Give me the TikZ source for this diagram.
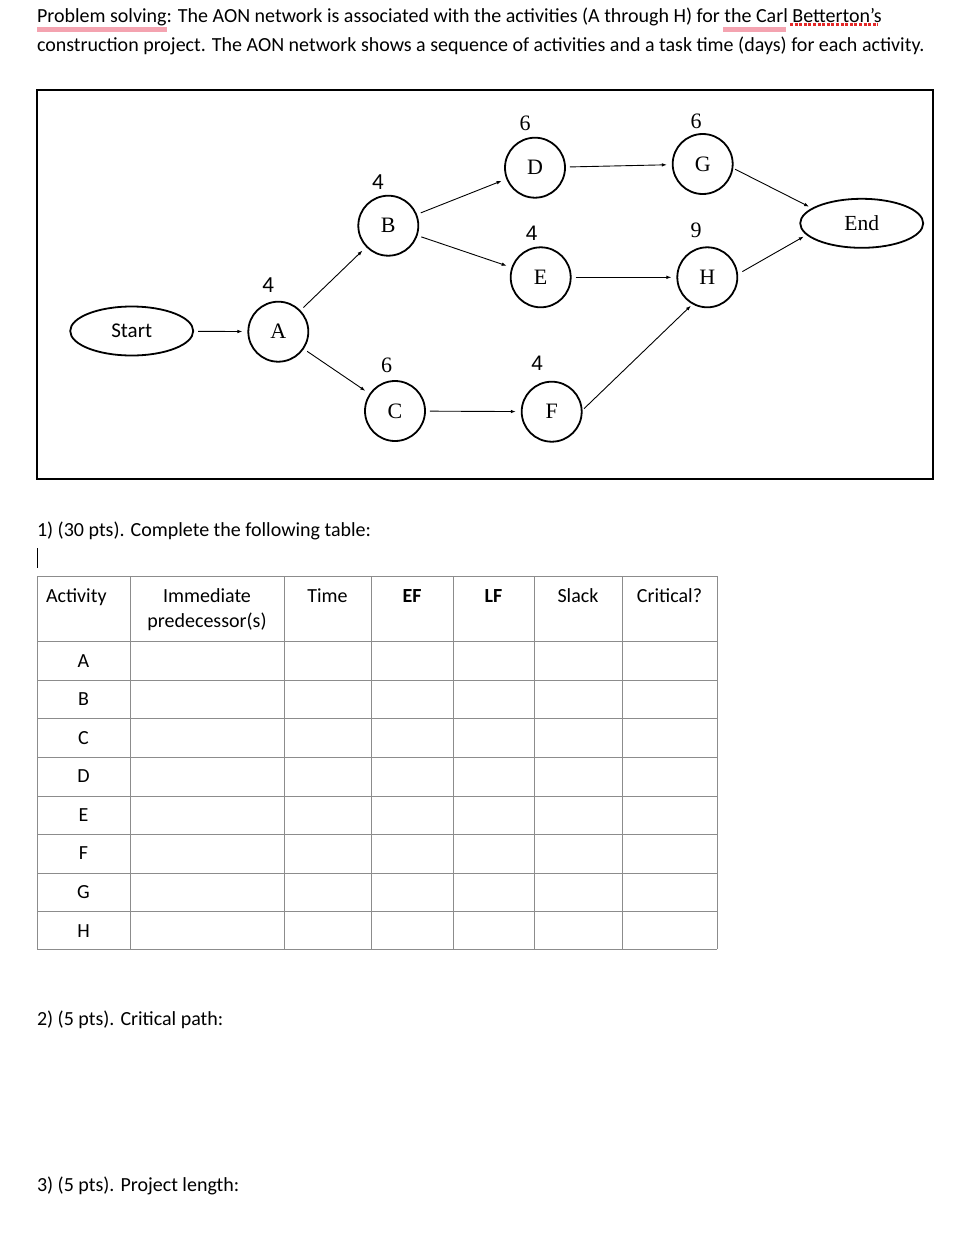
\documentclass[tikz,border=0pt]{standalone}
\usepackage{fontspec}
\setmainfont{Carlito}
\newfontfamily\tnr{Liberation Serif}
\newfontfamily\ars{Liberation Sans}
\usetikzlibrary{shapes.geometric,arrows.meta}
\begin{document}
\begin{tikzpicture}[x=1pt,y=-1pt,
  body/.style={font=\fontsize{20}{23}\selectfont, inner sep=0pt, outer sep=0pt},
  txt/.style={body, anchor=base west},
  cell/.style={body, anchor=base},
  act/.style={circle, draw, line width=1.8pt, minimum size=60pt, inner sep=0pt, font=\tnr\fontsize{22}{24}\selectfont},
  term/.style={ellipse, draw, line width=1.8pt, minimum width=123pt, minimum height=49pt, inner sep=0pt},
  num/.style={inner sep=0pt, anchor=center},
  numsans/.style={num, font=\fontsize{23}{25}\selectfont},
  numarial/.style={num, font=\ars\fontsize{21}{23}\selectfont},
  numserif/.style={num, font=\tnr\fontsize{22}{24}\selectfont},
  link/.style={line width=0.9pt, -{Latex[length=5pt,width=3.6pt]}, shorten <=4pt, shorten >=5pt},
  grid/.style={draw=black!45, line width=1pt},
  pinkmark/.style={draw={rgb,255:red,244;green,163;blue,176}, line width=5pt},
  spellmark/.style={draw={rgb,255:red,228;green,40;blue,40}, line width=2.6pt, dash pattern=on 3pt off 1.6pt}
]
\useasboundingbox (0,0) rectangle (968,1234);
\fill[white] (0,0) rectangle (968,1234);

% header
\draw[pinkmark] (37,29.5) -- (167,29.5);
\draw[pinkmark] (723,29.5) -- (786,29.5);
\draw[spellmark] (790,24.5) -- (878,24.5);
\node[txt] (h1) at (37,23) {Problem solving: The AON network is associated with the activities (A through H) for the Carl Betterton’s};
\node[txt] (h2) at (37,51) {construction project. The AON network shows a sequence of activities and a task time (days) for each activity.};

% network frame
\draw[line width=2pt] (37,90) rectangle (933,479);

\node[term, font=\fontsize{21}{24}\selectfont] (Start) at (131.7,331) {Start};
\node[term, font=\tnr\fontsize{21.5}{24}\selectfont] (End) at (861.7,223.3) {End};
\node[act] (A) at (278.3,331.7) {A};
\node[act] (B) at (388.3,225.7) {B};
\node[act] (C) at (395,411) {C};
\node[act] (D) at (535,167.7) {D};
\node[act] (E) at (540.7,277.3) {E};
\node[act] (F) at (551.7,411.7) {F};
\node[act] (G) at (702.7,164) {G};
\node[act] (H) at (707.3,277.3) {H};

\node[numsans] (nA) at (268.3,285) {4};
\node[numsans] (nB) at (378,181.7) {4};
\node[numserif] (nC) at (386.7,365) {6};
\node[numserif] (nD) at (525,123.3) {6};
\node[numserif] (nG) at (696,121.7) {6};
\node[numarial] (nE) at (531.7,233.3) {4};
\node[numserif] (nH) at (696,230) {9};
\node[numarial] (nF) at (537.3,363.3) {4};

\draw[link] (Start) -- (A);
\draw[link] (A) -- (B);
\draw[link] (A) -- (C);
\draw[link] (B) -- (D);
\draw[link] (B) -- (E);
\draw[link] (C) -- (F);
\draw[link] (D) -- (G);
\draw[link] (E) -- (H);
\draw[link, shorten <=2pt, shorten >=2pt] (F.3) -- (H.241);
\draw[link, shorten <=2pt, shorten >=3pt] (G.-8) -- (End.163);
\draw[link, shorten <=5pt, shorten >=3pt] (H.6) -- (End.192);

% question 1
\node[txt] (q1) at (37,536) {1) (30 pts). Complete the following table:};
\draw[line width=1.5pt] (37.5,548) -- (37.5,568);

% table grid
\foreach \y in {576,641,680,718,757,796,834,873,911,949}
  \draw[grid] (37,\y) -- (717,\y);
\foreach \x in {37,130,284,371,453,534,622,717}
  \draw[grid] (\x,576) -- (\x,949);

\node[txt] (tAct) at (46,602) {Activity};
\node[cell] (tImm) at (207,602) {Immediate};
\node[cell] (tPre) at (207,627) {predecessor(s)};
\node[cell] (tTime) at (327.5,602) {Time};
\node[cell, font=\bfseries\fontsize{20}{23}\selectfont] (tEF) at (412,602) {EF};
\node[cell, font=\bfseries\fontsize{20}{23}\selectfont] (tLF) at (493.5,602) {LF};
\node[cell] (tSl) at (578,602) {Slack};
\node[cell] (tCr) at (669.5,602) {Critical?};

\node[cell] (rA) at (83.5,667) {A};
\node[cell] (rB) at (83.5,705) {B};
\node[cell] (rC) at (83.5,744) {C};
\node[cell] (rD) at (83.5,782) {D};
\node[cell] (rE) at (83.5,821) {E};
\node[cell] (rF) at (83.5,859) {F};
\node[cell] (rG) at (83.5,898) {G};
\node[cell] (rH) at (83.5,937) {H};

\node[txt] (q2) at (37,1025) {2) (5 pts). Critical path:};
\node[txt] (q3) at (37,1191) {3) (5 pts). Project length:};
\end{tikzpicture}
\end{document}
